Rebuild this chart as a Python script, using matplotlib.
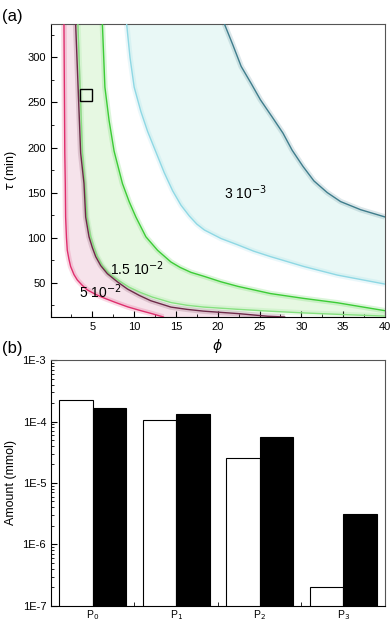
import matplotlib.pyplot as plt
import matplotlib.ticker as mticker
import numpy as np

plt.rcParams['font.family'] = ['Liberation Sans', 'DejaVu Sans']
plt.rcParams['mathtext.fontset'] = 'dejavusans'

# ---- panel (a): bands in the phi / tau plane
red_lo_phi = [1.6, 1.7, 1.76, 1.8, 1.9, 2.0, 2.2, 2.4, 2.8, 3.2, 3.8, 4.4, 5.4, 6.4,
              7.8, 9.2, 10.6, 12.0, 13.5]
red_lo_tau = [337, 194, 160, 123, 100, 86, 76, 68, 59, 53, 47, 42, 37, 33,
              28, 23.3, 19.5, 16, 12]
red_hi_phi = [3.0, 3.6, 4.0, 4.2, 4.6, 5.0, 5.4, 6.0, 6.8, 8.0, 9.2, 10.6, 12.0, 14.4,
              16.3, 18.3, 22.4, 26.0, 28.0]
red_hi_tau = [337, 194, 160, 123, 101, 89, 79, 69, 60, 51, 43, 36, 30, 23,
              20.5, 18.5, 15.8, 12.8, 12]

green_lo_phi = [3.27, 3.8, 4.1, 4.35, 4.8, 5.2, 5.6, 6.2, 7.0, 8.2, 9.4, 10.8, 12.2,
                14.4, 16.3, 18.3, 22.4, 26.3, 30.3, 35.0, 40]
green_lo_tau = [337, 194, 160, 123, 101, 89, 79, 69, 60, 52, 45, 39, 34,
                28, 25, 23, 20.5, 18.4, 16.5, 14.7, 13]
green_hi_phi = [6.2, 6.5, 7.0, 7.6, 8.6, 9.4, 10.2, 11.4, 12.8, 14.4, 15.5, 16.8,
                18.4, 20.4, 22.4, 26.3, 30.3, 34.3, 40]
green_hi_tau = [337, 267, 230, 196, 160, 140, 123, 101, 86, 73, 67, 61.5,
                57, 51, 46, 38, 32.6, 27.8, 19]

cyan_lo_phi = [9.1, 9.5, 10.0, 10.8, 11.6, 12.6, 13.6, 14.6, 15.6, 16.6, 17.5, 18.4,
               20.4, 22.4, 24.3, 26.3, 30.3, 34.3, 40]
cyan_lo_tau = [337, 300, 267, 240, 218, 195, 172, 152, 136, 124, 115, 108.5,
               99, 92, 85, 79, 68, 58.5, 48.5]
cyan_hi_phi = [20.8, 21.8, 22.8, 24.0, 25.1, 26.5, 27.8, 28.9, 30.2, 31.5, 33.1,
               34.7, 37.1, 40]
cyan_hi_tau = [337, 314, 290, 271, 253, 234, 216, 197, 179, 163, 150,
               140, 131, 123]

band_labels = ['5 10$^{-2}$', '1.5 10$^{-2}$', '3 10$^{-3}$']
label_pos = [(6.0, 40), (10.4, 66), (23.3, 150)]
marker_pt = (4.2, 258)

# ---- panel (b): amounts
products = ['P$_0$', 'P$_1$', 'P$_2$', 'P$_3$']
amount_white = [2.24e-4, 1.06e-4, 2.56e-5, 1.95e-7]
amount_black = [1.65e-4, 1.32e-4, 5.7e-5, 3.15e-6]

fig = plt.figure(figsize=(3.92, 6.24), dpi=100)
ax1 = fig.add_axes([0.129, 0.492, 0.853, 0.4695])
ax2 = fig.add_axes([0.130, 0.029, 0.852, 0.394])


def band(ax, lo_p, lo_t, hi_p, hi_t, fill, c_lo, c_hi):
    xs = list(lo_p) + [lo_p[-1], hi_p[-1]] + list(hi_p)[::-1]
    ys = list(lo_t) + [lo_t[-1], hi_t[-1]] + list(hi_t)[::-1]
    ax.fill(xs, ys, color=fill, lw=0, zorder=1)
    for p, t, c in ((lo_p, lo_t, c_lo), (hi_p, hi_t, c_hi)):
        ax.plot(p, t, color=c, lw=4, alpha=0.18, solid_capstyle='butt', zorder=2)
        ax.plot(p, t, color=c, lw=1.0, zorder=3)


band(ax1, cyan_lo_phi, cyan_lo_tau, cyan_hi_phi, cyan_hi_tau,
     '#e9f8f6', '#8fd8e4', '#3f7d8c')
band(ax1, green_lo_phi, green_lo_tau, green_hi_phi, green_hi_tau,
     '#e6f8e2', '#86e07f', '#3ccc36')
band(ax1, red_lo_phi, red_lo_tau, red_hi_phi, red_hi_tau,
     '#f6e3eb', '#df2f6e', '#6d2a48')

for txt, (px, py) in zip(band_labels, label_pos):
    ax1.text(px, py, txt, fontsize=10, ha='center', va='center', zorder=5)

ax1.plot([marker_pt[0]], [marker_pt[1]], marker='s', ms=8.5, mfc='none',
         mec='black', mew=1.0, zorder=6)

ax1.set_xlim(0, 40)
ax1.set_ylim(12, 337)
ax1.xaxis.set_major_locator(mticker.MultipleLocator(5))
ax1.xaxis.set_minor_locator(mticker.MultipleLocator(2.5))
ax1.yaxis.set_major_locator(mticker.MultipleLocator(50))
ax1.yaxis.set_minor_locator(mticker.MultipleLocator(25))
ax1.xaxis.set_major_formatter(mticker.FuncFormatter(lambda v, p: '' if v == 0 else '%d' % v))
ax1.tick_params(which='both', direction='in', labelsize=8, top=False, right=False)
ax1.tick_params(which='major', length=4)
ax1.tick_params(which='minor', length=2.5)
ax1.set_xlabel(r'$\phi$', fontsize=10, labelpad=4)
ax1.set_ylabel(r'$\tau$ (min)', fontsize=9, labelpad=6)
for s in ('top', 'right'):
    ax1.spines[s].set_color('#555555')

# ---- panel (b)
x = np.arange(len(products)) + 0.5
ax2.bar(x - 0.2, amount_white, width=0.4, bottom=1e-8, color='white',
        edgecolor='black', lw=0.8, zorder=2)
ax2.bar(x + 0.2, amount_black, width=0.4, bottom=1e-8, color='black',
        edgecolor='black', lw=0.8, zorder=2)
ax2.set_yscale('log')
ax2.set_ylim(1e-7, 1e-3)
ax2.set_xlim(0, 4)
ax2.set_xticks(x)
ax2.set_xticklabels(products, fontsize=7.5)
ax2.set_xticks([1, 2, 3], minor=True)
ax2.tick_params(axis='x', which='major', length=0, pad=2)
ax2.tick_params(axis='x', which='minor', direction='in', length=3)
ax2.yaxis.set_major_locator(mticker.LogLocator(base=10, numticks=10))
ax2.yaxis.set_minor_locator(mticker.LogLocator(base=10, subs=np.arange(2, 10), numticks=20))
ax2.yaxis.set_minor_formatter(mticker.NullFormatter())
ax2.yaxis.set_major_formatter(mticker.FuncFormatter(lambda v, p: '1E%d' % round(np.log10(v))))
ax2.tick_params(axis='y', which='both', direction='in', labelsize=8)
ax2.tick_params(axis='y', which='major', length=4)
ax2.tick_params(axis='y', which='minor', length=2)
ax2.set_ylabel('Amount (mmol)', fontsize=9, labelpad=4)
for s in ('top', 'right'):
    ax2.spines[s].set_color('#555555')

fig.text(0.005, 0.985, '(a)', fontsize=12, va='top')
fig.text(0.005, 0.453, '(b)', fontsize=12, va='top')

fig.savefig('out.png', dpi=100)
